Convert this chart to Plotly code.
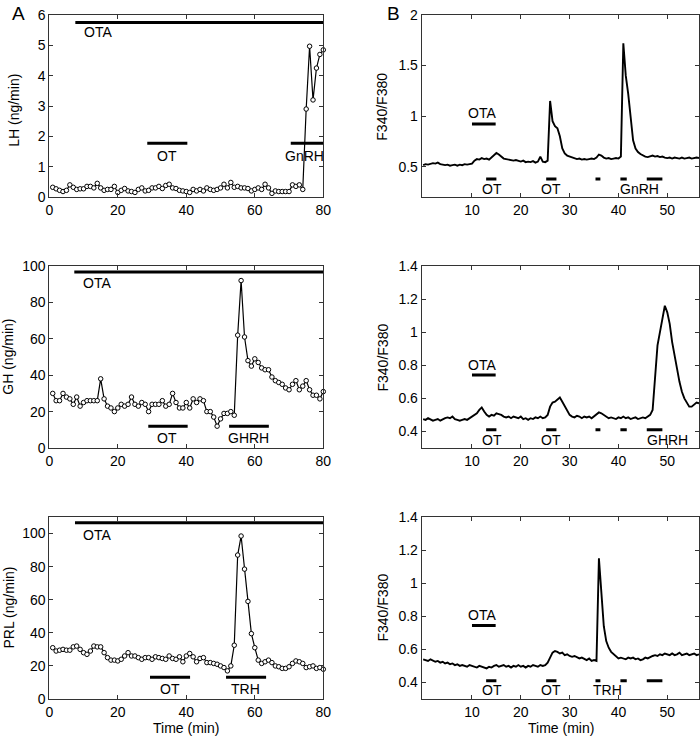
import plotly.graph_objects as go

# ---------------- data: left column (hormone release, 1-min fractions) ----------------
time_a = list(range(1, 81))
lh = [0.32,0.27,0.22,0.18,0.22,0.40,0.32,0.25,0.27,0.27,
      0.35,0.35,0.30,0.45,0.30,0.22,0.25,0.25,0.35,0.15,
      0.22,0.28,0.20,0.18,0.15,0.25,0.30,0.20,0.22,0.30,
      0.30,0.35,0.28,0.38,0.42,0.30,0.28,0.22,0.20,0.18,
      0.15,0.25,0.20,0.25,0.20,0.30,0.25,0.22,0.25,0.30,
      0.42,0.30,0.48,0.32,0.35,0.30,0.30,0.28,0.20,0.25,
      0.30,0.25,0.42,0.30,0.12,0.20,0.18,0.18,0.18,0.18,
      0.40,0.35,0.40,0.25,2.90,4.97,3.20,4.25,4.70,4.85]
gh = [30,26,26,30,28,27,24,28,23,25,
      26,26,26,26,38,27,23,22,20,22,
      24,23,24,28,24,23,25,24,20,24,
      24,24,26,23,24,30,25,22,22,25,
      22,27,25,27,26,20,20,17,12,16,
      19,19,20,18,62,92,61,48,45,49,
      47,44,43,43,39,37,36,35,33,32,
      35,37,32,34,37,32,29,29,27,31]
prl = [31,29,29.5,30,29.5,29.5,31.5,32,30,28,
       27,29,32,31.5,31.5,28,25,23.5,23.5,23,
       24,26,28,26,26,25,24,25,25,24,
       25.5,25,24.5,24,26,24.5,24,25.5,22.5,26,
       27.5,25.5,22.5,24.5,25,22,22,21.5,21,20,
       19,17,20,32.5,87,98.5,78.5,59,39.5,31,
       23.5,21.5,22.5,23.5,22,20,19.5,18.5,18.5,19.5,
       21.5,23,22.5,21.5,19,19.5,20,18.5,19,18]

# ---------------- data: right column (single-cell calcium, 0.5-min samples) ----------------
time_b = [i * 0.5 for i in range(114)]
ca_lh = [0.515,0.525,0.52,0.53,0.535,0.53,0.54,0.525,0.52,0.515,
         0.52,0.51,0.515,0.52,0.51,0.52,0.515,0.525,0.52,0.525,
         0.53,0.56,0.575,0.57,0.585,0.575,0.58,0.57,0.59,0.61,
         0.635,0.62,0.6,0.58,0.575,0.57,0.565,0.56,0.565,0.555,
         0.55,0.56,0.545,0.55,0.545,0.555,0.54,0.55,0.6,0.55,
         0.545,0.56,1.15,0.95,0.9,0.88,0.8,0.68,0.63,0.61,
         0.6,0.59,0.585,0.575,0.58,0.57,0.575,0.57,0.575,0.58,
         0.575,0.59,0.62,0.61,0.59,0.58,0.585,0.575,0.58,0.585,
         0.58,0.6,1.72,1.4,1.22,0.95,0.76,0.68,0.645,0.625,
         0.61,0.6,0.595,0.6,0.61,0.6,0.605,0.595,0.6,0.59,
         0.585,0.59,0.58,0.59,0.585,0.58,0.59,0.58,0.585,0.59,
         0.58,0.585,0.59,0.585]
ca_gh = [0.475,0.47,0.48,0.47,0.465,0.47,0.475,0.465,0.475,0.48,
         0.485,0.48,0.49,0.475,0.47,0.465,0.47,0.475,0.47,0.48,
         0.49,0.495,0.51,0.53,0.545,0.52,0.5,0.49,0.5,0.495,
         0.51,0.505,0.5,0.49,0.485,0.49,0.48,0.49,0.485,0.48,
         0.49,0.475,0.48,0.47,0.48,0.475,0.485,0.48,0.49,0.48,
         0.485,0.5,0.55,0.575,0.58,0.59,0.605,0.58,0.55,0.52,
         0.5,0.49,0.485,0.495,0.49,0.48,0.49,0.485,0.49,0.48,
         0.49,0.505,0.515,0.51,0.5,0.49,0.48,0.485,0.48,0.475,
         0.485,0.48,0.49,0.48,0.485,0.475,0.48,0.485,0.475,0.48,
         0.485,0.48,0.49,0.5,0.53,0.75,0.92,1.0,1.08,1.16,
         1.12,1.05,0.94,0.85,0.78,0.7,0.64,0.6,0.57,0.55,
         0.55,0.56,0.575,0.57]
ca_prl = [0.54,0.535,0.53,0.54,0.53,0.525,0.53,0.52,0.525,0.515,
          0.52,0.51,0.515,0.505,0.51,0.5,0.505,0.5,0.495,0.505,
          0.5,0.495,0.49,0.5,0.495,0.49,0.485,0.495,0.49,0.5,
          0.505,0.495,0.5,0.505,0.495,0.5,0.49,0.5,0.495,0.505,
          0.495,0.5,0.49,0.5,0.495,0.505,0.5,0.495,0.505,0.5,
          0.505,0.52,0.55,0.58,0.59,0.585,0.575,0.58,0.565,0.57,
          0.56,0.555,0.56,0.55,0.545,0.55,0.54,0.535,0.545,0.53,
          0.535,0.53,1.15,0.93,0.74,0.65,0.61,0.585,0.57,0.555,
          0.545,0.55,0.545,0.54,0.55,0.545,0.55,0.54,0.545,0.535,
          0.54,0.55,0.545,0.555,0.56,0.565,0.56,0.57,0.565,0.575,
          0.57,0.565,0.575,0.565,0.57,0.58,0.565,0.57,0.575,0.565,
          0.57,0.575,0.565,0.57]

# ---------------- treatment bars: (start, end, level) ----------------
bars_lh = [(7.6, 80, 5.75), (28.6, 40.3, 1.77), (70.5, 80, 1.77)]
bars_gh = [(7.3, 80, 96.7), (28.9, 40.4, 12), (52.5, 64.1, 12)]
bars_prl = [(7.5, 80, 106.5), (29.4, 41.1, 13.2), (51.6, 63.3, 13.2)]
stim_x = [(12.9, 15.0), (25.2, 27.3), (35.3, 36.3), (40.4, 41.7), (45.8, 49.0)]
ota_b = (10.0, 14.85)
ota_b_level = [0.922, 0.741, 0.744]
stim_b_level = [0.378, 0.41, 0.41]

# ---------------- labels: (text, x, y) ----------------
labels_lh = [("OTA", 14.3, 5.43), ("OT", 34.3, 1.36), ("GnRH", 74.4, 1.36)]
labels_gh = [("OTA", 13.8, 90.5), ("OT", 34.3, 5.5), ("GHRH", 58.2, 5.5)]
labels_prl = [("OTA", 13.8, 99.4), ("OT", 35.2, 5.9), ("TRH", 57.4, 5.9)]
labels_b1 = [("OTA", 12.1, 1.03), ("OT", 14.0, 0.282), ("OT", 26.2, 0.282), ("GnRH", 44.3, 0.282)]
labels_b2 = [("OTA", 12.1, 0.804), ("OT", 14.0, 0.35), ("OT", 26.2, 0.35), ("GHRH", 50.0, 0.35)]
labels_b3 = [("OTA", 12.1, 0.81), ("OT", 14.0, 0.354), ("OT", 26.2, 0.354), ("TRH", 37.85, 0.354)]

# ---------------- layout geometry ----------------
W, H = 700, 738
FONT = "Liberation Sans, Arial, Helvetica, sans-serif"
AX = "#333333"

def xd(a, b):
    return [a / W, b / W]

def yd(top, bottom):
    return [1 - bottom / H, 1 - top / H]

left_x = xd(49.3, 323.3)
right_x = xd(421.7, 699.0)
rows = [yd(15, 197), yd(266, 448), yd(517, 699)]

fig = go.Figure()

def add_line(x, y, n, width=1.2, marker=False):
    xa = "x" if n == 1 else f"x{n}"
    ya = "y" if n == 1 else f"y{n}"
    if marker:
        fig.add_trace(go.Scatter(
            x=x, y=y, xaxis=xa, yaxis=ya, mode="lines+markers",
            line=dict(color="black", width=width),
            marker=dict(symbol="circle", size=4.5, color="white",
                        line=dict(color="black", width=1)),
            showlegend=False, hoverinfo="skip", cliponaxis=False))
    else:
        fig.add_trace(go.Scatter(
            x=x, y=y, xaxis=xa, yaxis=ya, mode="lines",
            line=dict(color="black", width=width),
            showlegend=False, hoverinfo="skip"))

def add_bars(bars, n):
    for (a, b, lev) in bars:
        add_line([a, b], [lev, lev], n, width=3)

def add_labels(labels, n):
    xa = "x" if n == 1 else f"x{n}"
    ya = "y" if n == 1 else f"y{n}"
    for (t, x, y) in labels:
        fig.add_annotation(text=t, x=x, y=y, xref=xa, yref=ya, showarrow=False,
                           xanchor="center", yanchor="middle",
                           font=dict(family=FONT, size=14, color="black"))

# left column: axes 1, 3, 5 ; right column: 2, 4, 6
add_bars(bars_lh, 1)
add_line(time_a, lh, 1, marker=True)
add_bars(bars_gh, 3)
add_line(time_a, gh, 3, marker=True)
add_bars(bars_prl, 5)
add_line(time_a, prl, 5, marker=True)

for n, series, k in [(2, ca_lh, 0), (4, ca_gh, 1), (6, ca_prl, 2)]:
    add_line([ota_b[0], ota_b[1]], [ota_b_level[k], ota_b_level[k]], n, width=3)
    for (a, b) in stim_x:
        add_line([a, b], [stim_b_level[k], stim_b_level[k]], n, width=3)
    add_line(time_b, series, n, width=1.9)

add_labels(labels_lh, 1)
add_labels(labels_gh, 3)
add_labels(labels_prl, 5)
add_labels(labels_b1, 2)
add_labels(labels_b2, 4)
add_labels(labels_b3, 6)

common = dict(showline=True, linecolor=AX, linewidth=1, mirror="ticks",
              ticks="inside", ticklen=4, tickcolor=AX, tickwidth=1,
              showgrid=False, zeroline=False, fixedrange=True, automargin=False,
              tickfont=dict(family=FONT, size=14, color="black"))

layout = dict(width=W, height=H, margin=dict(l=0, r=0, t=0, b=0),
              template="none",
              plot_bgcolor="white", paper_bgcolor="white", showlegend=False)

left_y = [
    dict(range=[0, 6], tickvals=[0, 1, 2, 3, 4, 5, 6]),
    dict(range=[0, 100], tickvals=[0, 20, 40, 60, 80, 100]),
    dict(range=[0, 110], tickvals=[0, 20, 40, 60, 80, 100]),
]
right_y = [
    dict(range=[0.2, 2.0], tickvals=[0.5, 1, 1.5, 2], ticktext=["0.5", "1", "1.5", "2"]),
    dict(range=[0.3, 1.4], tickvals=[0.4, 0.6, 0.8, 1.0, 1.2, 1.4],
         ticktext=["0.4", "0.6", "0.8", "1", "1.2", "1.4"]),
    dict(range=[0.3, 1.4], tickvals=[0.4, 0.6, 0.8, 1.0, 1.2, 1.4],
         ticktext=["0.4", "0.6", "0.8", "1", "1.2", "1.4"]),
]

for r in range(3):
    nl = 2 * r + 1
    nr = 2 * r + 2
    kxl = "xaxis" if nl == 1 else f"xaxis{nl}"
    kyl = "yaxis" if nl == 1 else f"yaxis{nl}"
    kxr = f"xaxis{nr}"
    kyr = f"yaxis{nr}"
    yl = "y" if nl == 1 else f"y{nl}"
    xl = "x" if nl == 1 else f"x{nl}"
    layout[kxl] = dict(common, domain=left_x, anchor=yl, range=[0, 80],
                       tickvals=[0, 20, 40, 60, 80])
    layout[kyl] = dict(common, domain=rows[r], anchor=xl, **left_y[r])
    layout[kxr] = dict(common, domain=right_x, anchor=f"y{nr}", range=[-0.3, 56.5],
                       tickvals=[10, 20, 30, 40, 50])
    layout[kyr] = dict(common, domain=rows[r], anchor=f"x{nr}", **right_y[r])

fig.update_layout(**layout)

# axis titles and panel letters (paper pixel positions)
def paper_text(text, px, py, size=14, angle=0):
    fig.add_annotation(text=text, x=px / W, y=1 - py / H, xref="paper", yref="paper",
                       showarrow=False, xanchor="center", yanchor="middle",
                       textangle=angle, font=dict(family=FONT, size=size, color="black"))

paper_text("LH (ng/min)", 14, 110.8, angle=-90)
paper_text("GH (ng/min)", 8, 356.7, angle=-90)
paper_text("PRL (ng/min)", 8, 607.5, angle=-90)
for py in [106.7, 357.5, 607.5]:
    paper_text("F340/F380", 382, py, angle=-90)
paper_text("Time (min)", 186.3, 728.3)
paper_text("Time (min)", 560.8, 728.3)
paper_text("A", 18, 13, size=19)
paper_text("B", 393, 13, size=19)

fig.write_html(
    "out.html",
    config={"displayModeBar": False, "staticPlot": True},
    post_script="document.body.style.margin='0px';document.body.style.padding='0px';"
                "document.documentElement.style.overflow='hidden';",
)
